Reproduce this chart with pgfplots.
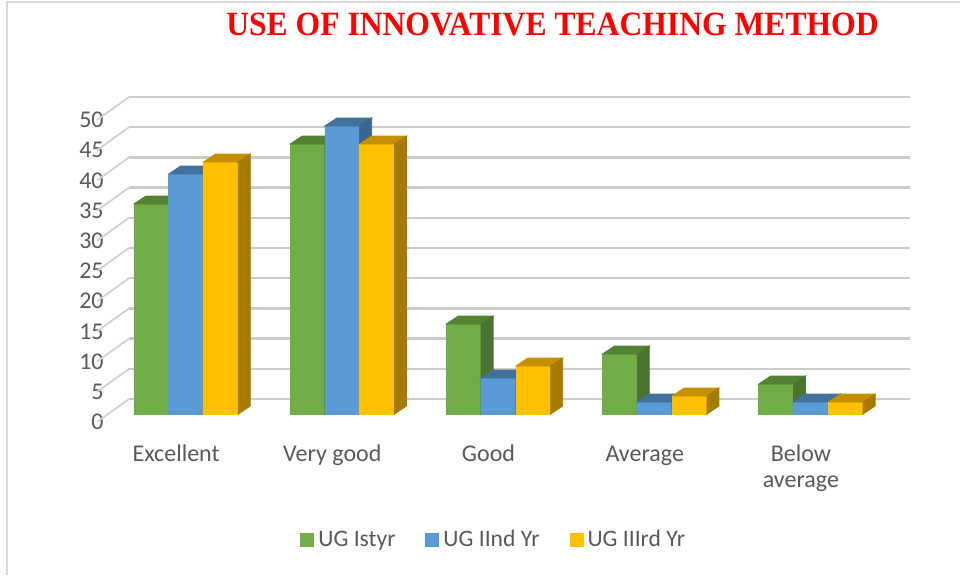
\documentclass[border=0pt]{standalone}
\usepackage{fontspec}
\setmainfont{Carlito}
\newfontfamily\titlefont{Liberation Serif}
\usepackage{graphicx}
\usepackage{pgfplots}
\usepackage{pgfplotstable}
\pgfplotsset{compat=1.18}

\definecolor{gfront}{HTML}{70AD47}
\definecolor{gtop}{HTML}{548235}
\definecolor{gside}{HTML}{4B7430}
\definecolor{bfront}{HTML}{5B9BD5}
\definecolor{btop}{HTML}{41719C}
\definecolor{bside}{HTML}{3B6591}
\definecolor{yfront}{HTML}{FFC000}
\definecolor{ytop}{HTML}{C49000}
\definecolor{yside}{HTML}{A67B00}
\definecolor{tickgray}{HTML}{595959}
\definecolor{framegray}{HTML}{D9D9D9}

\pgfdeclareplotmark{nothing}{}

\pgfplotstableread{
cat s1 s2 s3
0 35 40 42
1 45 48 45
2 15 6 8
3 10 2 3
4 5 2 2
}\datatable

% 3D faces of each bar: #1 left edge, #2 right edge (pt from category centre), #3 front, #4 top, #5 side colour
\pgfplotsset{
  face3d/.style n args={5}{
    only marks, mark=nothing, scatter, forget plot, point meta=explicit symbolic,
    scatter/@pre marker code/.code={%
      \scope
      \fill[#3] (#1pt,0pt) rectangle (#2pt,-3*\pgfplotspointmeta pt);
      \fill[#4] (#1pt,0pt) -- (#2pt,0pt) -- (#2pt+6pt,4pt) -- (#1pt+6pt,4pt) -- cycle;
      \fill[#5] (#2pt,0pt) -- (#2pt+6pt,4pt) -- (#2pt+6pt,4pt-3*\pgfplotspointmeta pt) -- (#2pt,-3*\pgfplotspointmeta pt) -- cycle;
    },
    scatter/@post marker code/.code={\endscope},
  },
}

\begin{document}
\begin{tikzpicture}
\useasboundingbox (0,0) rectangle (480pt,-287.5pt);
\draw[color=framegray, line width=0.75pt] (3.5pt,-287.5pt) -- (3.5pt,-1pt) -- (480pt,-1pt);

\node[anchor=base, text=red, font=\titlefont\bfseries\fontsize{17}{20}\selectfont]
  at (276.25pt,-17.5pt) {\scalebox{0.93}[1]{USE OF INNOVATIVE TEACHING METHOD}};

% back wall with gridlines
\begin{axis}[
  at={(64.5pt,-199.5pt)}, anchor=south west,
  x=78.1pt, y=3.02pt, xmin=-0.5, xmax=4.5, ymin=0, ymax=50,
  axis line style={draw=none}, xtick=\empty, ytick={0,5,...,50},
  major tick length=0pt,
  ymajorgrids, grid style={color=black!20, line width=1.2pt},
  yticklabel style={anchor=east, inner sep=0pt, xshift=-12.5pt, yshift=-11.5pt,
    font=\fontsize{12}{14}\selectfont, text=tickgray},
  /pgf/number format/assume math mode=true,
  clip=false,
]
\addplot[draw=none, forget plot] coordinates {(0,0)};
\pgfplotsinvokeforeach{0,5,10,15,20,25,30,35,40,45,50}{
  \draw[color=black!18, line width=0.9pt] (axis cs:-0.5,#1) -- ++(-16pt,-11.5pt);
}
\end{axis}

% bars
\begin{axis}[
  at={(54pt,-207pt)}, anchor=south west,
  x=78.1pt, y=3pt, xmin=-0.5, xmax=4.5, ymin=0, ymax=50,
  axis line style={draw=none}, ytick=\empty, xtick={0,1,2,3,4},
  xticklabels={Excellent, Very good, Good, Average, {\begin{tabular}[t]{@{}c@{}}Below\\average\end{tabular}}},
  major tick length=0pt,
  xticklabel style={anchor=base, xshift=-5pt, yshift=-23.5pt,
    font=\fontsize{12}{13}\selectfont, text=tickgray},
  clip=false,
  legend columns=3,
  legend style={at={(0.2458,-0.42)}, anchor=west, draw=none, fill=none, inner sep=0pt,
    font=\fontsize{11.8}{13}\selectfont, text=tickgray,
    /tikz/every even column/.append style={column sep=13pt}},
  legend image code/.code={\fill[#1] (0pt,-3.5pt) rectangle (7pt,3.5pt);},
]
\addplot[ybar, bar width=17.4pt, bar shift=-17.4pt, fill=gfront, draw=none, forget plot]
  table[x=cat,y=s1]{\datatable};
\addplot[ybar, bar width=17.4pt, bar shift=0pt, fill=bfront, draw=none, forget plot]
  table[x=cat,y=s2]{\datatable};
\addplot[ybar, bar width=17.4pt, bar shift=17.4pt, fill=yfront, draw=none, forget plot]
  table[x=cat,y=s3]{\datatable};
\addplot[face3d={-26.1}{-8.7}{gfront}{gtop}{gside}]
  table[x=cat,y=s1,meta=s1]{\datatable};
\addplot[face3d={-8.7}{8.7}{bfront}{btop}{bside}]
  table[x=cat,y=s2,meta=s2]{\datatable};
\addplot[face3d={8.7}{26.1}{yfront}{ytop}{yside}]
  table[x=cat,y=s3,meta=s3]{\datatable};

\addlegendimage{fill=gfront, draw=none}
\addlegendentry{UG Istyr}
\addlegendimage{fill=bfront, draw=none}
\addlegendentry{UG IInd Yr}
\addlegendimage{fill=yfront, draw=none}
\addlegendentry{UG IIIrd Yr}
\end{axis}
\end{tikzpicture}
\end{document}
